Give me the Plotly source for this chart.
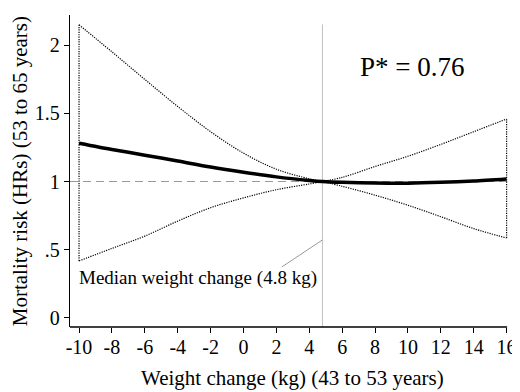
import plotly.graph_objects as go

# Data
weight_change = [-10, -8, -6, -4, -2, 0, 2, 4, 4.8, 6, 8, 10, 12, 14, 16]
hr_estimate = [1.281, 1.235, 1.193, 1.150, 1.106, 1.068, 1.034, 1.008, 1.000,
               0.994, 0.989, 0.988, 0.994, 1.004, 1.019]
ci_upper = [2.148, 1.950, 1.748, 1.550, 1.365, 1.208, 1.090, 1.020, 1.000,
            1.030, 1.110, 1.185, 1.272, 1.365, 1.458]
ci_lower = [0.418, 0.510, 0.600, 0.710, 0.808, 0.880, 0.940, 0.982, 1.000,
            0.965, 0.900, 0.826, 0.742, 0.655, 0.586]
median_change = 4.8
x_ticks = [-10, -8, -6, -4, -2, 0, 2, 4, 6, 8, 10, 12, 14, 16]
x_ticktext = ["-10", "-8", "-6", "-4", "-2", "0", "2", "4", "6", "8", "10", "12", "14", "16"]
y_ticks = [0, 0.5, 1, 1.5, 2]
y_ticktext = ["0", ".5", "1", "1.5", "2"]
p_text = "P* = 0.76"
annot_text = "Median weight change (4.8 kg)"

FONT = '"Liberation Serif", Tinos, "Times New Roman", "Nimbus Roman", "DejaVu Serif", serif'
split = weight_change.index(median_change)

fig = go.Figure()
dot = dict(color="black", width=1.2, dash="1.2px,1.2px")

for xs, ys in [
    (weight_change[:split + 1], ci_upper[:split + 1]),
    (weight_change[split:], ci_upper[split:]),
    (weight_change[:split + 1], ci_lower[:split + 1]),
    (weight_change[split:], ci_lower[split:]),
]:
    fig.add_trace(go.Scatter(x=xs, y=ys, mode="lines",
                             line=dict(shape="spline", smoothing=1.0, **dot),
                             hoverinfo="skip", showlegend=False))

for i in (0, -1):
    fig.add_trace(go.Scatter(x=[weight_change[i], weight_change[i]],
                             y=[ci_lower[i], ci_upper[i]], mode="lines",
                             line=dot, hoverinfo="skip", showlegend=False))

fig.add_trace(go.Scatter(x=weight_change, y=hr_estimate, mode="lines",
                         line=dict(color="black", width=3.5, shape="spline", smoothing=0.8),
                         showlegend=False))

shapes = [
    dict(type="line", xref="paper", yref="y", x0=0, x1=1, y0=1, y1=1,
         line=dict(color="#9a9a9a", width=1, dash="8px,5px"), layer="below"),
    dict(type="line", xref="x", yref="paper", x0=median_change, x1=median_change,
         y0=0, y1=0.97, line=dict(color="#c0c0c0", width=1), layer="below"),
    dict(type="line", xref="paper", yref="paper", x0=0, x1=0.9845, y0=0, y1=0,
         line=dict(color="black", width=1.3)),
    dict(type="line", xref="x", yref="y", x0=2.33, y0=0.374, x1=median_change, y1=0.572,
         line=dict(color="#9a9a9a", width=1)),
]

annotations = [
    dict(x=-10.15, y=0.29, xref="x", yref="y", text=annot_text, showarrow=False,
         xanchor="left", yanchor="middle", font=dict(family=FONT, size=19, color="black")),
    dict(x=10.3, y=1.84, xref="x", yref="y", text=p_text, showarrow=False,
         xanchor="center", yanchor="middle", font=dict(family=FONT, size=27, color="black")),
    dict(x=0.5, y=-0.163, xref="paper", yref="paper", text="Weight change (kg) (43 to 53 years)",
         showarrow=False, xanchor="center", yanchor="middle",
         font=dict(family=FONT, size=21, color="black")),
    dict(x=-0.112, y=0.5, xref="paper", yref="paper", text="Mortality risk (HRs) (53 to 65 years)",
         showarrow=False, xanchor="center", yanchor="middle", textangle=-90,
         font=dict(family=FONT, size=21, color="black")),
]

# page has an 8px body margin, so the figure is 8px smaller and margins reduced by 8px
fig.update_layout(
    width=512, height=384,
    margin=dict(l=62, r=3, t=7, b=65),
    paper_bgcolor="white", plot_bgcolor="white",
    font=dict(family=FONT, size=20, color="black"),
    shapes=shapes, annotations=annotations,
    xaxis=dict(range=[-10.55, 16.45], tickvals=x_ticks, ticktext=x_ticktext,
               showgrid=False, zeroline=False, showline=False,
               ticks="outside", ticklen=5, tickcolor="black", tickwidth=1,
               ticklabelstandoff=-3,
               tickfont=dict(family=FONT, size=20, color="black")),
    yaxis=dict(range=[-0.066, 2.22], tickvals=y_ticks, ticktext=y_ticktext,
               showgrid=False, zeroline=False, showline=True, linecolor="black", linewidth=1.3,
               ticks="outside", ticklen=5, tickcolor="black", tickwidth=1,
               tickfont=dict(family=FONT, size=20, color="black")),
)

fig.write_html("out.html")
